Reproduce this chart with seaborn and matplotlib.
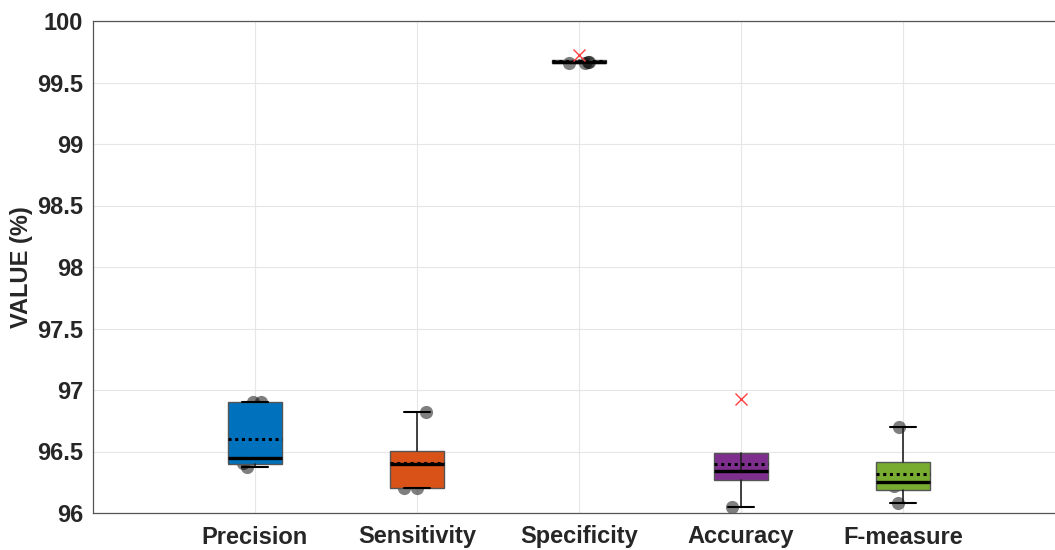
import numpy as np
import pandas as pd
import matplotlib
matplotlib.use("Agg")
import matplotlib.pyplot as plt
import seaborn as sns

# Scores from five runs, per metric (%)
metrics = ["Precision", "Sensitivity", "Specificity", "Accuracy", "F-measure"]
precision = [96.374, 96.406, 96.447, 96.90, 96.90]
sensitivity = [96.20, 96.20, 96.396, 96.401, 96.824]
specificity = [99.655, 99.66, 99.668, 99.67, 99.724]
accuracy = [96.05, 96.341, 96.344, 96.344, 96.927]
f_measure = [96.079, 96.223, 96.252, 96.323, 96.70]
y_ticks = [96, 96.5, 97, 97.5, 98, 98.5, 99, 99.5, 100]

box_colors = ["#0072BD", "#D95319", "#EDB120", "#7E2F8E", "#77AC30"]

series = [precision, sensitivity, specificity, accuracy, f_measure]
df = pd.DataFrame({
    "metric": np.repeat(metrics, [len(s) for s in series]),
    "value": np.concatenate(series),
})


def box_stats(values, label, whis=1.5):
    """Quartiles with midpoint (Hazen) interpolation, 1.5*IQR whiskers."""
    v = np.sort(np.asarray(values, dtype=float))
    q1, med, q3 = np.percentile(v, [25, 50, 75], method="hazen")
    iqr = q3 - q1
    lo_f, hi_f = q1 - whis * iqr, q3 + whis * iqr
    inside = (v >= lo_f) & (v <= hi_f)
    return dict(label=label, q1=q1, med=med, q3=q3, mean=v.mean(),
                whislo=v[inside].min(), whishi=v[inside].max(),
                fliers=v[~inside]), inside


stats, keep = [], []
for name, s in zip(metrics, series):
    st, inside = box_stats(s, name)
    stats.append(st)
    keep.append(inside)
df_in = df[np.concatenate(keep)]

sns.set_style("white")
plt.rcParams["font.family"] = ["Liberation Sans", "DejaVu Sans"]
plt.rcParams["font.weight"] = "bold"

fig = plt.figure(figsize=(10.55, 5.5), dpi=100)
ax = fig.add_axes([93 / 1055, 37 / 550, 972 / 1055, 492 / 550])

# Individual runs (behind the boxes)
np.random.seed(11)
sns.stripplot(data=df_in, x="metric", y="value", order=metrics, color="black",
              alpha=0.5, size=9.5, linewidth=0, jitter=0.08, ax=ax, zorder=1.5)

width = 0.333
art = ax.bxp(
    stats, positions=np.arange(len(metrics)), widths=width,
    capwidths=width / 2, patch_artist=True, manage_ticks=False,
    showmeans=True, meanline=True,
    boxprops=dict(edgecolor="#555555", linewidth=1.0),
    meanprops=dict(color="black", linestyle=(0, (1, 1.2)), linewidth=2.2),
    medianprops=dict(color="black", linewidth=2.4),
    whiskerprops=dict(color="#222222", linewidth=1.2),
    capprops=dict(color="black", linewidth=1.5),
    flierprops=dict(marker="x", markeredgecolor="#ff4040", markerfacecolor="none",
                    markersize=8, markeredgewidth=1.0, linestyle="none"),
)
for patch, col in zip(art["boxes"], box_colors):
    patch.set_facecolor(col)
    patch.set_zorder(2)
for key in ["whiskers", "caps", "medians", "means", "fliers"]:
    for line in art[key]:
        line.set_zorder(2.5)

ax.set_xlim(-1, 5)
ax.set_ylim(96, 100)
ax.set_xticks(np.arange(len(metrics)))
ax.set_xticklabels(metrics)
ax.set_yticks(y_ticks)
ax.set_yticklabels([f"{t:g}" for t in y_ticks])
ax.set_xlabel("")
ax.set_ylabel("VALUE (%)", fontsize=17, fontweight="bold", color="#262626",
              labelpad=3)

ax.grid(True, color="#e6e6e6", linewidth=0.8)
ax.set_axisbelow(True)
ax.tick_params(axis="both", direction="in", length=4, color="#777777",
               labelsize=17, labelcolor="#262626", pad=7)
ax.tick_params(axis="x", pad=9)
for lbl in ax.get_xticklabels() + ax.get_yticklabels():
    lbl.set_fontweight("bold")
for side in ["top", "left", "bottom", "right"]:
    ax.spines[side].set_visible(True)
    ax.spines[side].set_color("#555555")
    ax.spines[side].set_linewidth(0.9)

fig.savefig("out.png", dpi=100)
